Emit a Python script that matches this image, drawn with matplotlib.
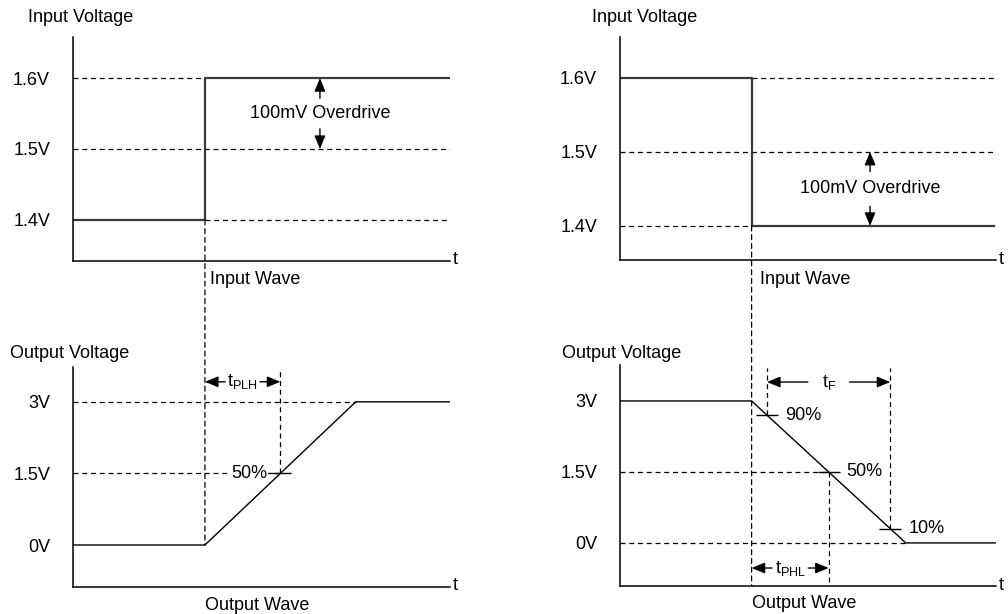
import matplotlib
matplotlib.use('Agg')
import matplotlib.pyplot as plt
from matplotlib.patches import ConnectionPatch

plt.rcParams['font.family'] = ['Liberation Sans', 'DejaVu Sans']
plt.rcParams['mathtext.default'] = 'regular'

# time axis (arbitrary units, 0..10)
t_step = 3.5
t_rise_end = 7.5
t_fall_end = 7.6
t_arrow_l = 6.55
t_arrow_r = 6.65

# input waveforms (volts)
in_levels = [1.4, 1.5, 1.6]
in_labels = ['1.4V', '1.5V', '1.6V']
rise_in_t = [0, t_step, t_step, 10]
rise_in_v = [1.4, 1.4, 1.6, 1.6]
fall_in_t = [0, t_step, t_step, 9.95]
fall_in_v = [1.6, 1.6, 1.4, 1.4]

# output waveforms (volts)
out_levels = [0, 1.5, 3]
out_labels = ['0V', '1.5V', '3V']
v_high = 3.0
rise_out_t = [0, t_step, t_rise_end, 10]
rise_out_v = [0, 0, v_high, v_high]
fall_out_t = [0, t_step, t_fall_end, 10]
fall_out_v = [v_high, v_high, 0, 0]
fall_pcts = [0.9, 0.5, 0.1]

FS = 13
DASH = dict(color='black', lw=0.9, ls=(0, (4, 3)))
SIG_IN = dict(color='#3a3a3a', lw=1.6)
SIG_OUT = dict(color='black', lw=1.0)


def frame(ax, ylim, ticks, labels, title, title_off):
    ax.set_xlim(0, 10)
    ax.set_ylim(*ylim)
    for s in ['top', 'right']:
        ax.spines[s].set_visible(False)
    for s in ['left', 'bottom']:
        ax.spines[s].set_linewidth(1.1)
    ax.set_xticks([])
    ax.set_yticks(ticks)
    ax.set_yticklabels(labels, fontsize=FS)
    ax.tick_params(axis='y', length=0, pad=16.5)
    ax.annotate(title, xy=(0, 1), xycoords='axes fraction', xytext=title_off,
                textcoords='offset pixels', ha='left', va='center', fontsize=FS)
    ax.annotate('t', xy=(1, 0), xycoords='axes fraction', xytext=(3, 1),
                textcoords='offset pixels', ha='left', va='center', fontsize=FS)
    ax.patch.set_alpha(0)


def arrow(ax, x0, y0, x1, y1, shrink):
    ax.annotate('', xy=(x1, y1), xytext=(x0, y0),
                arrowprops=dict(arrowstyle='-|>,head_length=0.8,head_width=0.33',
                                color='black', lw=1.0, shrinkA=shrink, shrinkB=0,
                                mutation_scale=10))


def span(ax, x0, x1, y, label, shrink):
    xm = (x0 + x1) / 2
    arrow(ax, xm, y, x0, y, shrink)
    arrow(ax, xm, y, x1, y, shrink)
    ax.text(xm, y, label, ha='center', va='center', fontsize=FS)


def overdrive(ax, t, lo, hi, shrink):
    mid = (lo + hi) / 2
    arrow(ax, t, mid, t, hi, shrink)
    arrow(ax, t, mid, t, lo, shrink)
    ax.text(t, mid, '100mV Overdrive', ha='center', va='center', fontsize=FS)


W, H = 1008, 614
fig = plt.figure(figsize=(W / 100, H / 100), dpi=100)


def box(x0, x1, y0, y1):
    return [x0 / W, 1 - y1 / H, (x1 - x0) / W, (y1 - y0) / H]


ax1 = fig.add_axes(box(73, 450, 37, 261))
ax2 = fig.add_axes(box(73, 450, 367, 587))
ax3 = fig.add_axes(box(620, 996, 37, 260))
ax4 = fig.add_axes(box(620, 996, 365, 586))

# ---- left: low to high ----
frame(ax1, (1.342, 1.658), in_levels, in_labels, 'Input Voltage', (-45, 19))
ax1.plot([0, t_step], [1.6, 1.6], **DASH)
ax1.plot([0, 10], [1.5, 1.5], **DASH)
ax1.plot([t_step, 10], [1.4, 1.4], **DASH)
ax1.plot(rise_in_t, rise_in_v, **SIG_IN)
overdrive(ax1, t_arrow_l, 1.5, 1.6, 11)
ax1.annotate('Input Wave', xy=(t_step, 0), xycoords=('data', 'axes fraction'),
             xytext=(5, -18), textcoords='offset pixels', ha='left', va='center',
             fontsize=FS)

frame(ax2, (-0.88, 3.73), out_levels, out_labels, 'Output Voltage', (-63, 14))
t50 = t_step + 0.5 * (t_rise_end - t_step)
ax2.plot([0, t_rise_end], [v_high, v_high], **DASH)
ax2.plot([0, t50], [1.5, 1.5], **DASH)
ax2.plot([t50, t50], [1.5, 3.67], **DASH)
ax2.plot(rise_out_t, rise_out_v, **SIG_OUT)
ax2.plot([t50], [1.5], marker='_', ms=16, mew=1.0, color='black')
ax2.annotate('50%', xy=(t50, 1.5), xytext=(-13, 0), textcoords='offset pixels',
             ha='right', va='center', fontsize=FS,
             bbox=dict(fc='white', ec='none', pad=0.5))
span(ax2, t_step, t50, 3.42, 't$_{PLH}$', 12.5)
ax2.annotate('Output Wave', xy=(t_step, 0), xycoords=('data', 'axes fraction'),
             xytext=(0, -19), textcoords='offset pixels', ha='left', va='center',
             fontsize=FS)

fig.add_artist(ConnectionPatch((t_step, 1.4), (t_step, 0), 'data', 'data',
                               axesA=ax1, axesB=ax2, **DASH))

# ---- right: high to low ----
frame(ax3, (1.354, 1.655), in_levels, in_labels, 'Input Voltage', (-28, 19))
ax3.plot([t_step, 10], [1.6, 1.6], **DASH)
ax3.plot([0, 10], [1.5, 1.5], **DASH)
ax3.plot([0, t_step], [1.4, 1.4], **DASH)
ax3.plot(fall_in_t, fall_in_v, **SIG_IN)
overdrive(ax3, t_arrow_r, 1.4, 1.5, 12.5)
ax3.annotate('Input Wave', xy=(t_step, 0), xycoords=('data', 'axes fraction'),
             xytext=(8, -19), textcoords='offset pixels', ha='left', va='center',
             fontsize=FS)

frame(ax4, (-0.91, 3.76), out_levels, out_labels, 'Output Voltage', (-58, 12))
tp = {p: t_step + (1 - p) * (t_fall_end - t_step) for p in fall_pcts}
ax4.plot([0, tp[0.5]], [1.5, 1.5], **DASH)
ax4.plot([0, t_fall_end], [0, 0], **DASH)
ax4.plot([tp[0.9], tp[0.9]], [0.9 * v_high, 3.7], **DASH)
ax4.plot([tp[0.1], tp[0.1]], [0.1 * v_high, 3.7], **DASH)
ax4.plot([tp[0.5], tp[0.5]], [1.5, -0.91], **DASH)
ax4.plot(fall_out_t, fall_out_v, **SIG_OUT)
for p in fall_pcts:
    ax4.plot([tp[p]], [p * v_high], marker='_', ms=16, mew=1.0, color='black')
    ax4.annotate(f'{int(p * 100)}%', xy=(tp[p], p * v_high), xytext=(18, 0),
                 textcoords='offset pixels', ha='left', va='center', fontsize=FS,
                 bbox=dict(fc='white', ec='none', pad=0.5))
span(ax4, tp[0.9], tp[0.1], 3.40, 't$_F$', 15)
span(ax4, t_step, tp[0.5], -0.53, 't$_{PHL}$', 13)
ax4.annotate('Output Wave', xy=(t_step, 0), xycoords=('data', 'axes fraction'),
             xytext=(0, -18), textcoords='offset pixels', ha='left', va='center',
             fontsize=FS)

fig.add_artist(ConnectionPatch((t_step, 1.4), (t_step, -0.91), 'data', 'data',
                               axesA=ax3, axesB=ax4, **DASH))

fig.savefig('out.png', dpi=100)
